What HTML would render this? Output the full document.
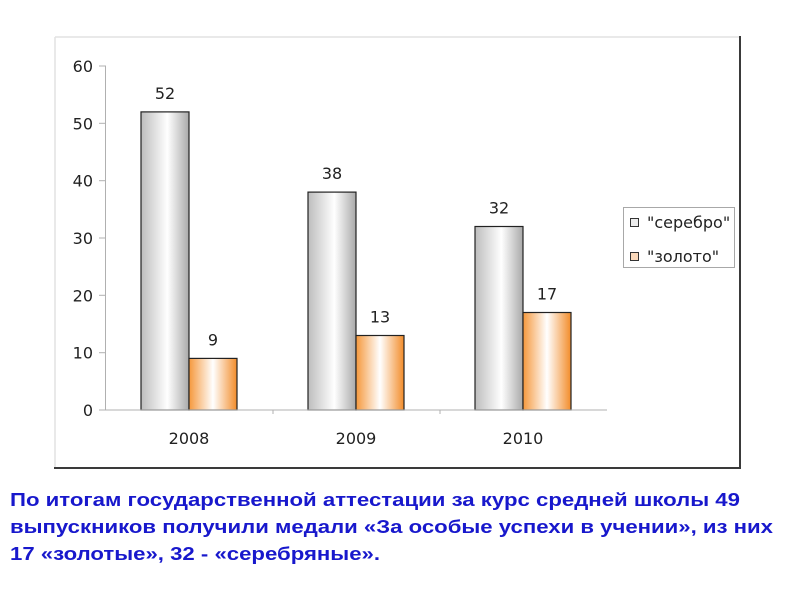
<!DOCTYPE html>
<html><head><meta charset="utf-8"><style>
html,body{margin:0;padding:0;background:#fff;width:800px;height:600px;overflow:hidden}
svg{display:block}
</style></head><body>
<svg width="800" height="600" viewBox="0 0 800 600" xmlns="http://www.w3.org/2000/svg">
<defs>
<linearGradient id="sil" x1="0" y1="0" x2="1" y2="0">
<stop offset="0" stop-color="#bdbdbd"/>
<stop offset="0.55" stop-color="#ffffff"/>
<stop offset="1" stop-color="#a9a9a9"/>
</linearGradient>
<linearGradient id="org" x1="0" y1="0" x2="1" y2="0">
<stop offset="0" stop-color="#f5983c"/>
<stop offset="0.5" stop-color="#ffffff"/>
<stop offset="1" stop-color="#f28c2a"/>
</linearGradient>
</defs>
<!-- frame -->
<line x1="55" y1="37" x2="740" y2="37" stroke="#e2e2e2" stroke-width="1.5"/>
<line x1="55" y1="37" x2="55" y2="468" stroke="#e2e2e2" stroke-width="1.5"/>
<line x1="740" y1="36" x2="740" y2="469" stroke="#3a3a3a" stroke-width="2"/>
<line x1="54" y1="468" x2="741" y2="468" stroke="#3a3a3a" stroke-width="2"/>

<!-- y axis -->
<line x1="105.5" y1="66" x2="105.5" y2="410" stroke="#b0b0b0" stroke-width="1"/>
<g stroke="#b0b0b0" stroke-width="1">
<line x1="99" y1="66" x2="106" y2="66"/>
<line x1="99" y1="123.3" x2="106" y2="123.3"/>
<line x1="99" y1="180.7" x2="106" y2="180.7"/>
<line x1="99" y1="238" x2="106" y2="238"/>
<line x1="99" y1="295.3" x2="106" y2="295.3"/>
<line x1="99" y1="352.7" x2="106" y2="352.7"/>
<line x1="99" y1="410" x2="106" y2="410"/>
</g>
<g font-family="DejaVu Sans, Verdana, sans-serif" font-size="16" fill="#222" text-anchor="end">
<text x="93" y="72">60</text>
<text x="93" y="129.3">50</text>
<text x="93" y="186.7">40</text>
<text x="93" y="244">30</text>
<text x="93" y="301.3">20</text>
<text x="93" y="358.7">10</text>
<text x="93" y="416">0</text>
</g>

<!-- bars -->
<g stroke="#222" stroke-width="1.2">
<rect x="141" y="111.9" width="48" height="298.1" fill="url(#sil)"/>
<rect x="189" y="358.4" width="48" height="51.6" fill="url(#org)"/>
<rect x="308" y="192.1" width="48" height="217.9" fill="url(#sil)"/>
<rect x="356" y="335.5" width="48" height="74.5" fill="url(#org)"/>
<rect x="475" y="226.5" width="48" height="183.5" fill="url(#sil)"/>
<rect x="523" y="312.5" width="48" height="97.5" fill="url(#org)"/>
</g>

<!-- x axis -->
<line x1="106" y1="410" x2="607" y2="410" stroke="#b0b0b0" stroke-width="1"/>
<g stroke="#b0b0b0" stroke-width="1">
<line x1="273" y1="410" x2="273" y2="414"/>
<line x1="440" y1="410" x2="440" y2="414"/>
</g>

<g font-family="DejaVu Sans, Verdana, sans-serif" font-size="16" fill="#222" text-anchor="middle">
<text x="165" y="99">52</text>
<text x="213" y="345.5">9</text>
<text x="332" y="179">38</text>
<text x="380" y="322.5">13</text>
<text x="499" y="213.5">32</text>
<text x="547" y="299.5">17</text>
<text x="189" y="444">2008</text>
<text x="356" y="444">2009</text>
<text x="523" y="444">2010</text>
</g>

<!-- legend -->
<rect x="623.5" y="207.5" width="111" height="60" fill="#fff" stroke="#a8a8a8" stroke-width="1"/>
<rect x="630.5" y="218.5" width="8" height="8" fill="#ececec" stroke="#333" stroke-width="1"/>
<rect x="630.5" y="252.5" width="8" height="8" fill="#fbd9bb" stroke="#333" stroke-width="1"/>
<g font-family="DejaVu Sans, Verdana, sans-serif" font-size="16" fill="#222">
<text x="647" y="228">"серебро"</text>
<text x="647" y="262">"золото"</text>
</g>

<!-- caption -->
<g font-family="Liberation Sans, Arial, sans-serif" font-size="18" font-weight="bold" fill="#1818cc">
<text x="10" y="506" textLength="730" lengthAdjust="spacingAndGlyphs">По итогам государственной аттестации за курс средней школы 49</text>
<text x="10" y="533" textLength="763" lengthAdjust="spacingAndGlyphs">выпускников получили медали «За особые успехи в учении», из них</text>
<text x="10" y="560" textLength="370" lengthAdjust="spacingAndGlyphs">17 «золотые», 32 - «серебряные».</text>
</g>
</svg>
</body></html>
